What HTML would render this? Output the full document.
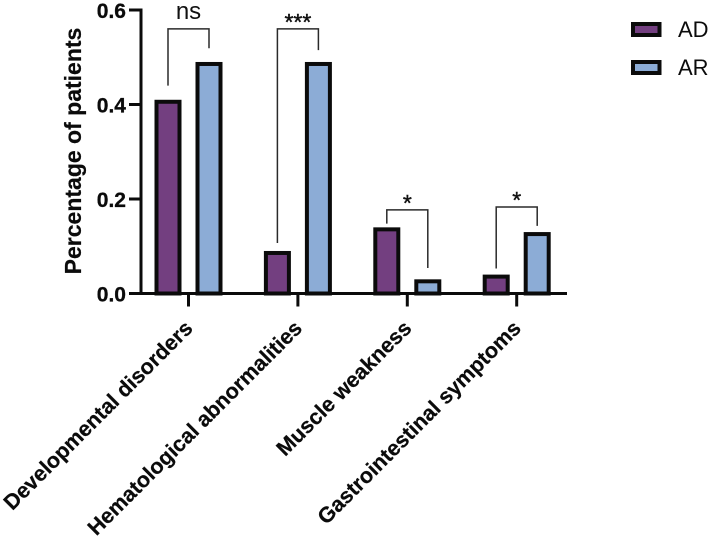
<!DOCTYPE html>
<html>
<head>
<meta charset="utf-8">
<style>
html,body{margin:0;padding:0;background:#fff;width:712px;height:537px;overflow:hidden}
svg{display:block;font-family:"Liberation Sans",sans-serif;filter:blur(0.35px)}
</style>
</head>
<body>
<svg id="chart" width="712" height="537" viewBox="0 0 712 537" xmlns="http://www.w3.org/2000/svg"></svg>
<script>
const categories = ["Developmental disorders", "Hematological abnormalities", "Muscle weakness", "Gastrointestinal symptoms"];
const seriesNames = ["AD", "AR"];
const adValues = [0.41, 0.09, 0.14, 0.04];
const arValues = [0.49, 0.49, 0.03, 0.13];
const yTicks = ["0.0", "0.2", "0.4", "0.6"];
const sigLabels = ["ns", "***", "*", "*"];
const sigTop = [0.560, 0.560, 0.177, 0.183];
const sigLeftEnd = [0.440, 0.107, 0.148, 0.053];
const sigRightEnd = [0.519, 0.515, 0.054, 0.143];

const NS = "http://www.w3.org/2000/svg";
const svg = document.getElementById("chart");
const INK = "#0b0b0b";
const y0 = 293.5, yPerUnit = 472.5;
const firstCenter = 188.5, groupStep = 109.4, barOffset = 20.5;
const barW = 27, border = 4;
const yScale = v => y0 - v * yPerUnit;
const xScale = i => firstCenter + i * groupStep;

function make(tag, attrs, text) {
  const el = document.createElementNS(NS, tag);
  for (const k in attrs) el.setAttribute(k, attrs[k]);
  if (text !== undefined) el.textContent = text;
  svg.appendChild(el);
  return el;
}

function drawBar(cx, v, fill, name) {
  const top = yScale(v);
  const el = make("rect", {
    x: cx - barW / 2 + border / 2,
    y: top + border / 2,
    width: barW - border,
    height: y0 - top - border / 2,
    fill: fill,
    stroke: INK,
    "stroke-width": border
  });
  
  
}

categories.forEach((c, i) => {
  drawBar(xScale(i) - barOffset, adValues[i], "#733f80", "bar-ad-" + (i + 1));
  drawBar(xScale(i) + barOffset, arValues[i], "#8cacd6", "bar-ar-" + (i + 1));
});

const yAxis = make("line", { x1: 141, x2: 141, y1: yScale(0.6) - 1.5, y2: y0 + 1.5, stroke: INK, "stroke-width": 3 });


const xAxis = make("line", { x1: 129, x2: 567, y1: y0, y2: y0, stroke: INK, "stroke-width": 3 });



yTicks.forEach(t => {
  const y = yScale(parseFloat(t));
  const tick = make("line", { x1: 129, x2: 141, y1: y, y2: y, stroke: INK, "stroke-width": 3 });
  
  
  const lab = make("text", { x: 126, y: y + 8, "text-anchor": "end", "font-size": 21, "font-weight": 700, fill: INK, stroke: INK, "stroke-width": 0.3 }, t);
  
  
});

categories.forEach((c, i) => {
  const x = xScale(i);
  const tick = make("line", { x1: x, x2: x, y1: y0, y2: y0 + 13, stroke: INK, "stroke-width": 3 });
  
  
  const ax = x + 5.5, ay = 329.5;
  const lab = make("text", {
    x: ax, y: ay, "text-anchor": "end", "font-size": 21.5, "font-weight": 700, fill: INK, stroke: INK, "stroke-width": 0.25,
    transform: "rotate(-45 " + ax + " " + ay + ")"
  }, c);
  
  
});

sigLabels.forEach((s, i) => {
  const xl = xScale(i) - barOffset, xr = xScale(i) + barOffset;
  const top = yScale(sigTop[i]);
  const br = make("path", {
    d: "M" + xl + " " + yScale(sigLeftEnd[i]) + "V" + top + "H" + xr + "V" + yScale(sigRightEnd[i]),
    fill: "none", stroke: "#2a2a2a", "stroke-width": 1.5
  });
  
  
  const isNs = s === "ns";
  const lab = make("text", {
    x: (xl + xr) / 2, y: top + (isNs ? -10 : 1), "text-anchor": "middle",
    "font-size": isNs ? 24 : 23, fill: "#111", stroke: isNs ? "none" : "#111", "stroke-width": 0.4
  }, s);
  
  
});

const title = make("text", {
  x: 0, y: 0, "text-anchor": "middle", "font-size": 23, "font-weight": 700, fill: INK, stroke: INK, "stroke-width": 0.2,
  transform: "translate(81 151) rotate(-90)"
}, "Percentage of patients");



seriesNames.forEach((n, i) => {
  const top = 22 + i * 38;
  const sw = make("rect", {
    x: 633, y: top + 2, width: 26.5, height: 11,
    fill: i === 0 ? "#733f80" : "#8cacd6", stroke: INK, "stroke-width": 4
  });
  
  
  const lab = make("text", { x: 678, y: top + 15, "font-size": 22, fill: INK }, n);
  
  
});
</script>
</body>
</html>
